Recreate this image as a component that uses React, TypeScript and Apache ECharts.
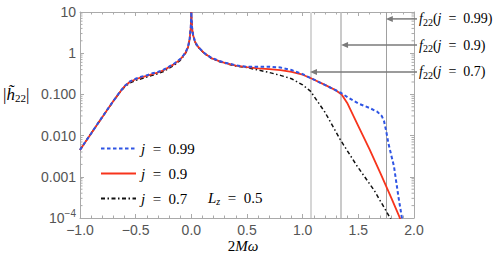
import React, { useEffect, useRef } from 'react';
import * as echarts from 'echarts';

// ---- data ----
const commonX = [-1, -0.95, -0.9, -0.85, -0.8, -0.75, -0.7, -0.65, -0.6, -0.55, -0.5, -0.45, -0.4, -0.35, -0.3, -0.25, -0.2, -0.15, -0.1, -0.07, -0.05, -0.03, -0.015, -0.005, 0, 0.005, 0.015, 0.03, 0.05, 0.08, 0.12, 0.18, 0.25, 0.3, 0.4, 0.5];
const left90 = [0.0045, 0.0071, 0.0113, 0.0178, 0.028, 0.044, 0.069, 0.106, 0.158, 0.203, 0.233, 0.258, 0.283, 0.31, 0.34, 0.385, 0.46, 0.55, 0.71, 0.88, 1.05, 1.4, 2.2, 4.2, 10, 4.5, 2.8, 2.0, 1.55, 1.25, 0.98, 0.76, 0.64, 0.58, 0.5, 0.46];
const left99 = [0.0045, 0.0072, 0.0112, 0.018, 0.0283, 0.0445, 0.0695, 0.107, 0.16, 0.207, 0.24, 0.27, 0.29, 0.325, 0.35, 0.4, 0.47, 0.57, 0.72, 0.9, 1.07, 1.42, 2.25, 4.3, 10, 4.6, 2.85, 2.05, 1.57, 1.27, 0.99, 0.77, 0.65, 0.59, 0.51, 0.465];
const left70 = [0.0045, 0.0071, 0.0114, 0.0177, 0.0282, 0.0438, 0.069, 0.105, 0.152, 0.19, 0.218, 0.24, 0.265, 0.29, 0.32, 0.36, 0.43, 0.52, 0.67, 0.85, 1.02, 1.38, 2.15, 4.1, 10, 4.4, 2.75, 1.97, 1.52, 1.23, 0.97, 0.75, 0.63, 0.57, 0.49, 0.45];

const tailX99 = [0.6, 0.7, 0.8, 0.9, 1.0, 1.07, 1.2, 1.34, 1.42, 1.5, 1.6, 1.67, 1.71, 1.73, 1.75, 1.77, 1.8, 1.82, 1.86, 1.89, 1.92];
const tail99 = [0.47, 0.47, 0.45, 0.39, 0.31, 0.25, 0.17, 0.11, 0.08, 0.06, 0.047, 0.038, 0.03, 0.023, 0.013, 0.0065, 0.003, 0.0018, 0.00033, 0.000107, 0.00003];

const tailX90 = [0.6, 0.7, 0.8, 0.9, 1.0, 1.07, 1.2, 1.3, 1.35, 1.4, 1.5, 1.6, 1.7, 1.8, 1.87, 1.92];
const tail90 = [0.43, 0.41, 0.39, 0.35, 0.3, 0.25, 0.17, 0.125, 0.1, 0.062, 0.017, 0.0047, 0.0012, 0.00029, 0.000105, 0.00004];

const tailX70 = [0.6, 0.7, 0.8, 0.9, 1.0, 1.07, 1.2, 1.34, 1.49, 1.64, 1.78, 1.85];
const tail70 = [0.39, 0.34, 0.29, 0.24, 0.17, 0.12, 0.037, 0.0078, 0.0018, 0.00048, 0.000107, 0.00005];

const seriesNames = ['j = 0.99', 'j = 0.9', 'j = 0.7'];
const seriesColors = ['#2f55e4', '#f7341c', '#111111'];

// f22 frequencies (vertical lines) and annotation arrow heights
const f22X = [1.747, 1.345, 1.066];
const f22ArrowY = [6.8, 1.58, 0.35];
const f22Labels = ['0.99', '0.9', '0.7'];

const xTicks = [-1.0, -0.5, 0.0, 0.5, 1.0, 1.5, 2.0];
const yTickLabels: Record<string, string> = {
  '0.0001': '10{sup|\u22124}',
  '0.001': '0.001',
  '0.01': '0.010',
  '0.1': '0.100',
  '1': '1',
  '10': '10',
};

const zip = (xs: number[], ys: number[]) => xs.map((x, i) => [x, ys[i]]);

export default function App() {
  const ref = useRef<HTMLDivElement>(null);
  useEffect(() => {
    document.body.style.margin = '0';
    const chart = echarts.init(ref.current!, null, { renderer: 'svg' });
    const axisColor = '#aaaaaa';
    const labelColor = '#555555';
    const labelFont = 'Liberation Sans';

    const minorVals: number[][] = [];
    for (let e = -4; e < 1; e++) {
      for (let k = 2; k <= 9; k++) minorVals.push([-1, k * Math.pow(10, e)]);
    }

    const lineStyles: any[] = [
      { color: seriesColors[0], width: 2, type: [3.5, 2.5] },
      { color: seriesColors[1], width: 1.8, type: 'solid' },
      { color: seriesColors[2], width: 1.5, type: [4, 2.5, 1.5, 2.5] },
    ];
    const datas = [
      zip(commonX, left99).concat(zip(tailX99, tail99)),
      zip(commonX, left90).concat(zip(tailX90, tail90)),
      zip(commonX, left70).concat(zip(tailX70, tail70)),
    ];

    const series: any[] = datas.map((d, i) => ({
      name: seriesNames[i],
      type: 'line',
      data: d,
      showSymbol: false,
      symbol: 'none',
      lineStyle: lineStyles[i],
      itemStyle: { color: seriesColors[i] },
      z: 10 - i,
    }));
    // vertical f22 lines
    series.push({
      type: 'line',
      data: [],
      markLine: {
        silent: true,
        symbol: 'none',
        label: { show: false },
        data: [
          { xAxis: f22X[2], lineStyle: { color: '#d6d6d6', width: 2, type: 'solid' } },
          { xAxis: f22X[1], lineStyle: { color: '#b8b8b8', width: 1.5, type: 'solid' } },
          { xAxis: f22X[0], lineStyle: { color: '#a0a0a0', width: 1, type: 'solid' } },
        ],
      },
      z: 1,
    });
    // log-distributed minor ticks on left/right frame
    series.push({
      type: 'custom',
      silent: true,
      data: minorVals,
      renderItem: (params: any, api: any) => {
        const v = api.value(1);
        const l = api.coord([-1, v]);
        const r = api.coord([2, v]);
        return {
          type: 'group',
          children: [
            { type: 'line', shape: { x1: l[0], y1: l[1], x2: l[0] + 2.5, y2: l[1] }, style: { stroke: axisColor, lineWidth: 1 } },
            { type: 'line', shape: { x1: r[0] - 2.5, y1: r[1], x2: r[0], y2: r[1] }, style: { stroke: axisColor, lineWidth: 1 } },
          ],
        };
      },
      z: 2,
    });

    const xAxisBase = {
      type: 'value',
      min: -1,
      max: 2,
      interval: 0.5,
      axisLine: { show: true, onZero: false, lineStyle: { color: axisColor, width: 1 } },
      axisTick: { show: true, inside: true, length: 4, lineStyle: { color: axisColor } },
      minorTick: { show: true, splitNumber: 5, length: 2.5, lineStyle: { color: axisColor } },
      splitLine: { show: false },
      minorSplitLine: { show: false },
    };
    const yAxisBase = {
      type: 'log',
      logBase: 10,
      min: 0.0001,
      max: 10,
      axisLine: { show: true, onZero: false, lineStyle: { color: axisColor, width: 1 } },
      axisTick: { show: true, inside: true, length: 4, lineStyle: { color: axisColor } },
      splitLine: { show: false },
    };

    chart.setOption({
      animation: false,
      grid: { left: 80, right: 84, top: 12, bottom: 39, containLabel: false },
      xAxis: [
        {
          ...xAxisBase,
          position: 'bottom',
          axisLabel: {
            color: labelColor,
            fontFamily: labelFont,
            fontSize: 14,
            margin: 5,
            formatter: (v: number) => (xTicks.some((t) => Math.abs(t - v) < 1e-9) ? v.toFixed(1).replace('-', '\u2212') : ''),
          },
        },
        { ...xAxisBase, position: 'top', axisLabel: { show: false } },
      ],
      yAxis: [
        {
          ...yAxisBase,
          position: 'left',
          axisLabel: {
            color: labelColor,
            fontFamily: labelFont,
            fontSize: 14,
            margin: 4,
            formatter: (v: number) => {
              const key = String(Number(v.toPrecision(3)));
              return yTickLabels[key] ?? '';
            },
            rich: {
              sup: { fontSize: 10, color: labelColor, fontFamily: labelFont, padding: [0, 0, 9, 0] },
            },
          },
        },
        { ...yAxisBase, position: 'right', axisLabel: { show: false } },
      ],
      legend: {
        data: seriesNames,
        orient: 'vertical',
        left: 95,
        top: 136,
        itemWidth: 35,
        itemHeight: 14,
        itemGap: 10,
        itemStyle: { opacity: 0, borderWidth: 0 },
        textStyle: {
          fontFamily: 'Liberation Serif',
          fontSize: 15,
          color: '#000',
          rich: {
            i: { fontFamily: 'Liberation Serif', fontStyle: 'italic', fontSize: 15, color: '#000' },
            n: { fontFamily: 'Liberation Serif', fontSize: 15, color: '#000' },
          },
        },
        formatter: (name: string) => '{i|j}{n|\u2002=\u2002' + name.split('= ')[1] + '}',
      },
      series,
    });

    // annotations positioned through the chart's own scales
    const graphics: any[] = [];
    const frameRight = chart.convertToPixel({ gridIndex: 0 }, [2, 1])[0];
    f22X.forEach((fx, i) => {
      const p = chart.convertToPixel({ gridIndex: 0 }, [fx, f22ArrowY[i]]);
      const tipX = p[0];
      const y = p[1];
      graphics.push({
        type: 'line',
        shape: { x1: frameRight + 3, y1: y, x2: tipX + 5, y2: y },
        style: { stroke: '#7a7a7a', lineWidth: 1.5 },
        z: 20,
      });
      graphics.push({
        type: 'polygon',
        shape: { points: [[tipX, y], [tipX + 7, y - 3], [tipX + 7, y + 3]] },
        style: { fill: '#7a7a7a' },
        z: 20,
      });
      graphics.push({
        type: 'text',
        x: frameRight + 5,
        y: y,
        style: {
          text: '{i|f}{s|22}{n|(}{i|j}{n|\u2002=\u2002' + f22Labels[i] + ')}',
          verticalAlign: 'middle',
          rich: {
            i: { fontFamily: 'Liberation Serif', fontStyle: 'italic', fontSize: 14, fill: '#000' },
            n: { fontFamily: 'Liberation Serif', fontSize: 14, fill: '#000' },
            s: { fontFamily: 'Liberation Serif', fontSize: 10, fill: '#000', padding: [7, 0, 0, 0] },
          },
        },
        z: 20,
      });
    });
    // axis names and L_z note
    graphics.push({
      type: 'text',
      x: 3,
      y: 94,
      style: {
        text: '{n||}{i|h\u0303}{s|22}{n||}',
        verticalAlign: 'middle',
        rich: {
          i: { fontFamily: 'Liberation Serif', fontStyle: 'italic', fontSize: 17, fill: '#000' },
          n: { fontFamily: 'Liberation Serif', fontSize: 17, fill: '#000' },
          s: { fontFamily: 'Liberation Serif', fontSize: 11, fill: '#000', padding: [8, 0, 0, 0] },
        },
      },
    });
    graphics.push({
      type: 'text',
      x: 243,
      y: 246,
      style: {
        text: '{n|2}{i|M\u03c9}',
        align: 'center',
        verticalAlign: 'middle',
        rich: {
          i: { fontFamily: 'Liberation Serif', fontStyle: 'italic', fontSize: 15, fill: '#000' },
          n: { fontFamily: 'Liberation Serif', fontSize: 15, fill: '#000' },
        },
      },
    });
    graphics.push({
      type: 'text',
      x: 208,
      y: 198,
      style: {
        text: '{i|L}{s|z}{n|\u2002=\u20020.5}',
        verticalAlign: 'middle',
        rich: {
          i: { fontFamily: 'Liberation Serif', fontStyle: 'italic', fontSize: 15, fill: '#000' },
          n: { fontFamily: 'Liberation Serif', fontSize: 15, fill: '#000' },
          s: { fontFamily: 'Liberation Serif', fontStyle: 'italic', fontSize: 10, fill: '#000', padding: [7, 0, 0, 0] },
        },
      },
    });
    chart.setOption({ graphic: graphics });

    return () => chart.dispose();
  }, []);
  return <div ref={ref} style={{ width: 498, height: 257 }} />;
}
